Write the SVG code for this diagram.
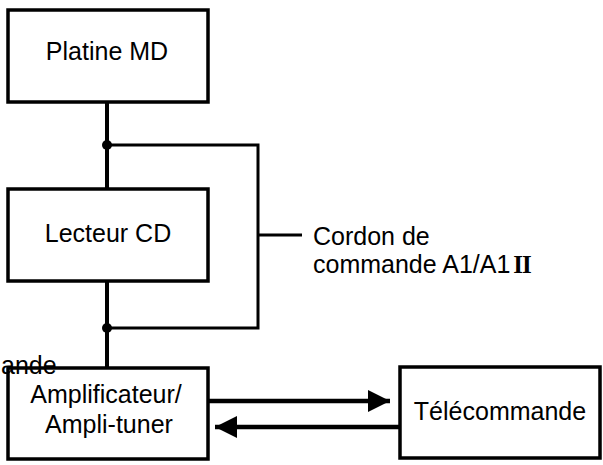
<svg xmlns="http://www.w3.org/2000/svg" width="603" height="465" viewBox="0 0 603 465">
<style>
.box{fill:#fff;stroke:#000;stroke-width:3.5}
.t{font-family:"Liberation Sans",Arial,sans-serif;font-size:25px;fill:#000}
.c{text-anchor:middle}
.bus{stroke:#000;stroke-width:4;fill:none}
.cab{stroke:#000;stroke-width:3;fill:none}
.arr{stroke:#000;stroke-width:4.5;fill:none}
</style>
<defs>
<marker id="ah" viewBox="0 0 10 10" refX="10" refY="5" markerUnits="userSpaceOnUse" markerWidth="24" markerHeight="22" orient="auto">
<path d="M0,0 L10,5 L0,10 Z" fill="#000"/>
</marker>
</defs>
<g id="connectors">
<line class="bus" x1="107" y1="102" x2="107" y2="189"/>
<line class="bus" x1="107" y1="281" x2="107" y2="368"/>
<polyline class="cab" points="107,145 258,145 258,328 107,328"/>
<line class="cab" x1="258" y1="235" x2="302" y2="235"/>
<circle cx="107" cy="145" r="5" fill="#000"/>
<circle cx="107" cy="328" r="5" fill="#000"/>
<line class="arr" x1="208" y1="401" x2="390" y2="401" marker-end="url(#ah)"/>
<line class="arr" x1="400" y1="427" x2="215" y2="427" marker-end="url(#ah)"/>
</g>
<g id="platine">
<rect class="box" x="8" y="10" width="200" height="92"/>
<text class="t c" x="107" y="60">Platine MD</text>
</g>
<g id="lecteur">
<rect class="box" x="8" y="189" width="200" height="92"/>
<text class="t c" x="108" y="242">Lecteur CD</text>
</g>
<g id="ampli">
<rect class="box" x="8" y="368" width="200" height="91"/>
<text class="t c" x="106" y="403">Amplificateur/</text>
<text class="t c" x="109" y="433">Ampli-tuner</text>
</g>
<g id="telecommande">
<rect class="box" x="400" y="367" width="200" height="91"/>
<text class="t c" x="500" y="420">Télécommande</text>
</g>
<g id="cordon">
<text class="t" x="313" y="245">Cordon de</text>
<text class="t" x="313" y="273">commande A1/A1<tspan font-family="'Liberation Serif',serif" font-weight="bold" font-size="25" dx="3" letter-spacing="-1">II</tspan></text>
</g>
<text class="t" x="1" y="374" font-size="24">ande</text>
</svg>
